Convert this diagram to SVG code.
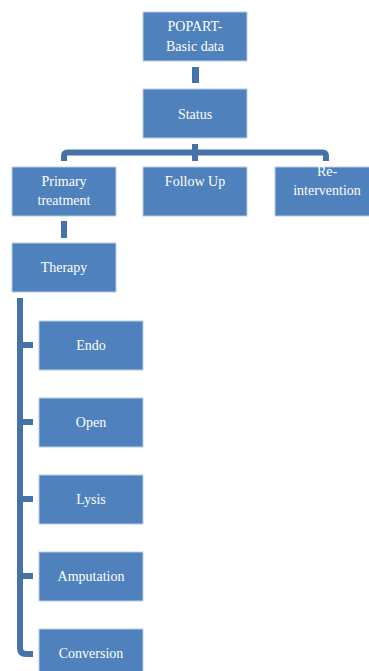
<svg xmlns="http://www.w3.org/2000/svg" width="369" height="671" viewBox="0 0 369 671">
<style>
.box{fill:#4F81BD;stroke:#B9CDE5;stroke-width:1}
.t{fill:#ffffff;font-family:"Liberation Serif","DejaVu Serif",serif;font-size:14px;text-anchor:middle}
.c{fill:none;stroke:#4672AA;stroke-width:6}
.cf{fill:#4672AA}
</style>
<rect width="369" height="671" fill="#ffffff"/>
<g id="connectors">
<rect class="cf" x="192" y="67" width="7" height="16"/>
<rect class="cf" x="192" y="144" width="6" height="17"/>
<path class="c" stroke-width="5" d="M64,161 V156 Q64,152.5 67.5,152.5 H322.5 Q326,152.5 326,156 V161"/>
<rect class="cf" x="61" y="221" width="6" height="17"/>
<path class="c" d="M20,298 V648 Q20,654 26,654 H33"/>
<rect class="cf" x="20" y="342" width="13" height="6"/>
<rect class="cf" x="20" y="419" width="13" height="6"/>
<rect class="cf" x="20" y="496" width="13" height="6"/>
<rect class="cf" x="20" y="573" width="13" height="6"/>
</g>
<g id="popart"><rect class="box" x="143" y="12" width="104" height="49"/><text class="t" x="195" y="31">POPART-</text><text class="t" x="195" y="51">Basic data</text></g>
<g id="status"><rect class="box" x="143" y="89" width="104" height="49"/><text class="t" x="195" y="119">Status</text></g>
<g id="primary"><rect class="box" x="12" y="167" width="104" height="49"/><text class="t" x="64" y="186">Primary</text><text class="t" x="64" y="205">treatment</text></g>
<g id="followup"><rect class="box" x="143" y="167" width="104" height="49"/><text class="t" x="195" y="186">Follow Up</text></g>
<g id="reintervention"><rect class="box" x="275" y="167" width="104" height="49"/><text class="t" x="327" y="176">Re-</text><text class="t" x="327" y="195">intervention</text></g>
<g id="therapy"><rect class="box" x="12" y="243" width="104" height="49"/><text class="t" x="64" y="272">Therapy</text></g>
<g id="endo"><rect class="box" x="39" y="321" width="104" height="49"/><text class="t" x="91" y="350">Endo</text></g>
<g id="open"><rect class="box" x="39" y="398" width="104" height="49"/><text class="t" x="91" y="427">Open</text></g>
<g id="lysis"><rect class="box" x="39" y="475" width="104" height="49"/><text class="t" x="91" y="504">Lysis</text></g>
<g id="amputation"><rect class="box" x="39" y="552" width="104" height="49"/><text class="t" x="91" y="581">Amputation</text></g>
<g id="conversion"><rect class="box" x="39" y="629" width="104" height="49"/><text class="t" x="91" y="658">Conversion</text></g>
</svg>
